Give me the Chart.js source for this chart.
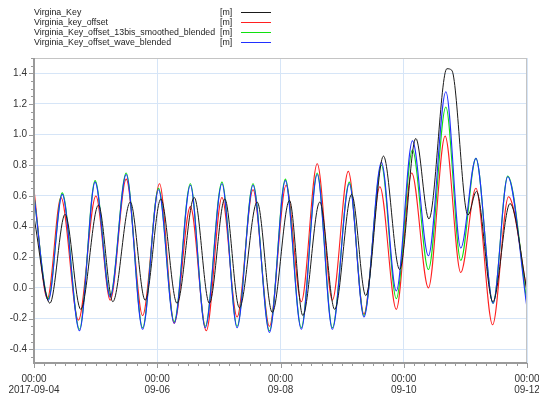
<!DOCTYPE html>
<html>
<head>
<meta charset="utf-8">
<script src="https://cdn.jsdelivr.net/npm/chart.js@4/dist/chart.umd.min.js"></script>
<style>
  body { margin: 0; background: #fff; }
  #wrap { position: relative; width: 539px; height: 394px; }
  #legend { position: absolute; left: 34px; top: 7px; font: 8.8px 'Liberation Sans', Arial, sans-serif; color: #222; }
  #legend div { position: relative; height: 10px; line-height: 10px; white-space: nowrap; }
  #legend .u { position: absolute; left: 186px; top: 0; }
  #legend .s { position: absolute; left: 207px; top: 5px; width: 30px; height: 1px; }
</style>
</head>
<body>
<div id="wrap">
  <canvas id="chart" width="539" height="394"></canvas>
  <div id="legend"></div>
</div>
<script>
// hours since 2017-09-04 00:00, values in metres
const seriesNames = ['Virgina_Key', 'Virginia_key_offset', 'Virginia_Key_offset_13bis_smoothed_blended', 'Virginia_Key_offset_wave_blended'];
const seriesColors = ['#1a1a1a', '#ff2020', '#10e010', '#2030ff'];

const keyHours = [0, 6.2, 12.1, 18.2, 25.1, 30.7, 37.5, 43.3, 49.4, 55.7, 62.4, 68.3, 74.3, 80.0, 86.9, 92.8, 99.5, 104.7, 111.3, 117.1, 123.7, 129.2, 136.1, 142.4, 148.7, 153.8, 160.8, 162.7, 169.0, 172.3, 178.7, 185.4, 192];
const keyValues = [0.46, -0.10, 0.48, -0.14, 0.54, -0.09, 0.56, -0.08, 0.58, -0.10, 0.59, -0.10, 0.58, -0.13, 0.56, -0.16, 0.57, -0.18, 0.56, -0.14, 0.61, -0.05, 0.86, 0.12, 0.975, 0.45, 1.43, 1.42, 0.475, 0.63, -0.09, 0.55, -0.02];

const offsetHours = [0, 5.2, 10.5, 17.3, 24.1, 29.7, 35.9, 42.3, 48.9, 54.6, 60.9, 67.1, 73.2, 79.1, 85.3, 91.7, 98.2, 104.1, 110.3, 116.2, 122.4, 128.5, 134.7, 141.1, 147.1, 153.6, 160.1, 166.2, 172.1, 178.6, 184.8, 192];
const offsetValues = [0.64, -0.07, 0.59, -0.21, 0.60, -0.08, 0.71, -0.18, 0.68, -0.23, 0.53, -0.28, 0.59, -0.19, 0.64, -0.25, 0.67, -0.09, 0.81, -0.08, 0.76, -0.17, 0.66, -0.14, 0.75, 0.00, 0.99, 0.10, 0.65, -0.24, 0.595, -0.02];

const blendHours = [0, 5.6, 11.0, 17.7, 23.8, 29.7, 35.9, 42.3, 48.5, 54.6, 60.9, 66.7, 73.2, 79.1, 85.3, 91.7, 97.9, 104.1, 110.3, 116.2, 122.8, 128.5, 135.3, 141.1, 147.4, 153.6, 160.4, 166.2, 172.1, 178.8, 184.5, 192];
const smoothedValues = [0.60, -0.07, 0.62, -0.27, 0.70, -0.05, 0.75, -0.26, 0.65, -0.22, 0.68, -0.25, 0.69, -0.25, 0.68, -0.28, 0.71, -0.26, 0.75, -0.26, 0.69, -0.18, 0.80, -0.07, 0.90, 0.12, 1.18, 0.18, 0.845, -0.10, 0.73, -0.10];
const waveValues = [0.60, -0.08, 0.61, -0.28, 0.69, -0.06, 0.74, -0.27, 0.64, -0.23, 0.67, -0.26, 0.68, -0.26, 0.67, -0.29, 0.70, -0.27, 0.74, -0.27, 0.68, -0.19, 0.82, -0.02, 0.96, 0.21, 1.28, 0.26, 0.845, -0.10, 0.725, -0.13];

const xTickLabels = [['00:00', '2017-09-04'], ['00:00', '09-06'], ['00:00', '09-08'], ['00:00', '09-10'], ['00:00', '09-12']];

const pts = (hs, vs) => hs.map((h, i) => ({ x: h, y: vs[i] }));
const allSeries = [pts(keyHours, keyValues), pts(offsetHours, offsetValues), pts(blendHours, smoothedValues), pts(blendHours, waveValues)];
const drawOrder = [0, 3, 2, 1];

// legend
const legend = document.getElementById('legend');
seriesNames.forEach((n, i) => {
    const row = document.createElement('div');
    row.innerHTML = `${n}<span class="u">[m]</span><span class="s" style="background:${seriesColors[i]}"></span>`;
    legend.appendChild(row);
});

const frame = {
    id: 'frame',
    afterDraw(chart) {
        const { ctx, chartArea: a, scales: { x, y } } = chart;
        ctx.save();
        ctx.strokeStyle = '#c4c4c4';
        ctx.lineWidth = 1;
        ctx.strokeRect(a.left + 0.5, a.top + 0.5, a.right - a.left - 1, a.bottom - a.top);
        ctx.strokeStyle = '#9a9a9a';
        ctx.lineWidth = 2;
        ctx.beginPath();
        ctx.moveTo(a.left, a.top);
        ctx.lineTo(a.left, a.bottom);
        ctx.lineTo(a.right, a.bottom);
        ctx.stroke();
        ctx.lineWidth = 1;
        ctx.beginPath();
        for (let h = 0; h <= 192; h += 4) {
            const px = Math.round(x.getPixelForValue(h)) + 0.5;
            ctx.moveTo(px, a.bottom);
            ctx.lineTo(px, a.bottom + (h % 48 === 0 ? 5 : 3));
        }
        for (let k = -9; k <= 30; k++) {
            const py = Math.round(y.getPixelForValue(k * 0.05)) + 0.5;
            if (py < a.top || py > a.bottom) continue;
            ctx.moveTo(a.left, py);
            ctx.lineTo(a.left - (k % 4 === 0 ? 5 : 3), py);
        }
        ctx.stroke();
        ctx.restore();
    }
};

const font = { family: "'Liberation Sans', Arial, sans-serif", size: 10 };

new Chart(document.getElementById('chart'), {
    type: 'line',
    data: {
        datasets: allSeries.map((d, i) => ({
            label: seriesNames[i],
            data: d,
            borderColor: seriesColors[i],
            borderWidth: i === 0 ? 1 : 1.1,
            pointRadius: 0,
            fill: false,
            cubicInterpolationMode: 'monotone',
            order: drawOrder[i]
        }))
    },
    options: {
        responsive: false,
        animation: false,
        devicePixelRatio: 1,
        layout: { padding: { top: 58, right: 12, left: 0, bottom: 0 } },
        plugins: { legend: { display: false }, tooltip: { enabled: false } },
        scales: {
            x: {
                type: 'linear',
                min: 0,
                max: 192,
                grid: { color: '#d6e5f7', drawTicks: false },
                border: { display: false },
                ticks: {
                    stepSize: 48,
                    maxRotation: 0,
                    autoSkip: false,
                    padding: 11,
                    color: '#333',
                    font: { ...font, lineHeight: 1.1 },
                    callback: v => xTickLabels[Math.round(v / 48)]
                },
                afterFit: s => { s.height = 31; s.paddingLeft = 0; s.paddingRight = 0; }
            },
            y: {
                min: -0.49,
                max: 1.5,
                grid: { color: '#d6e5f7', drawTicks: false },
                border: { display: false },
                ticks: {
                    stepSize: 0.2,
                    includeBounds: false,
                    padding: 7,
                    color: '#333',
                    font,
                    callback: v => v.toFixed(1)
                },
                afterFit: s => { s.width = 34; s.paddingTop = 0; s.paddingBottom = 0; }
            }
        }
    },
    plugins: [frame]
});
</script>
</body>
</html>
